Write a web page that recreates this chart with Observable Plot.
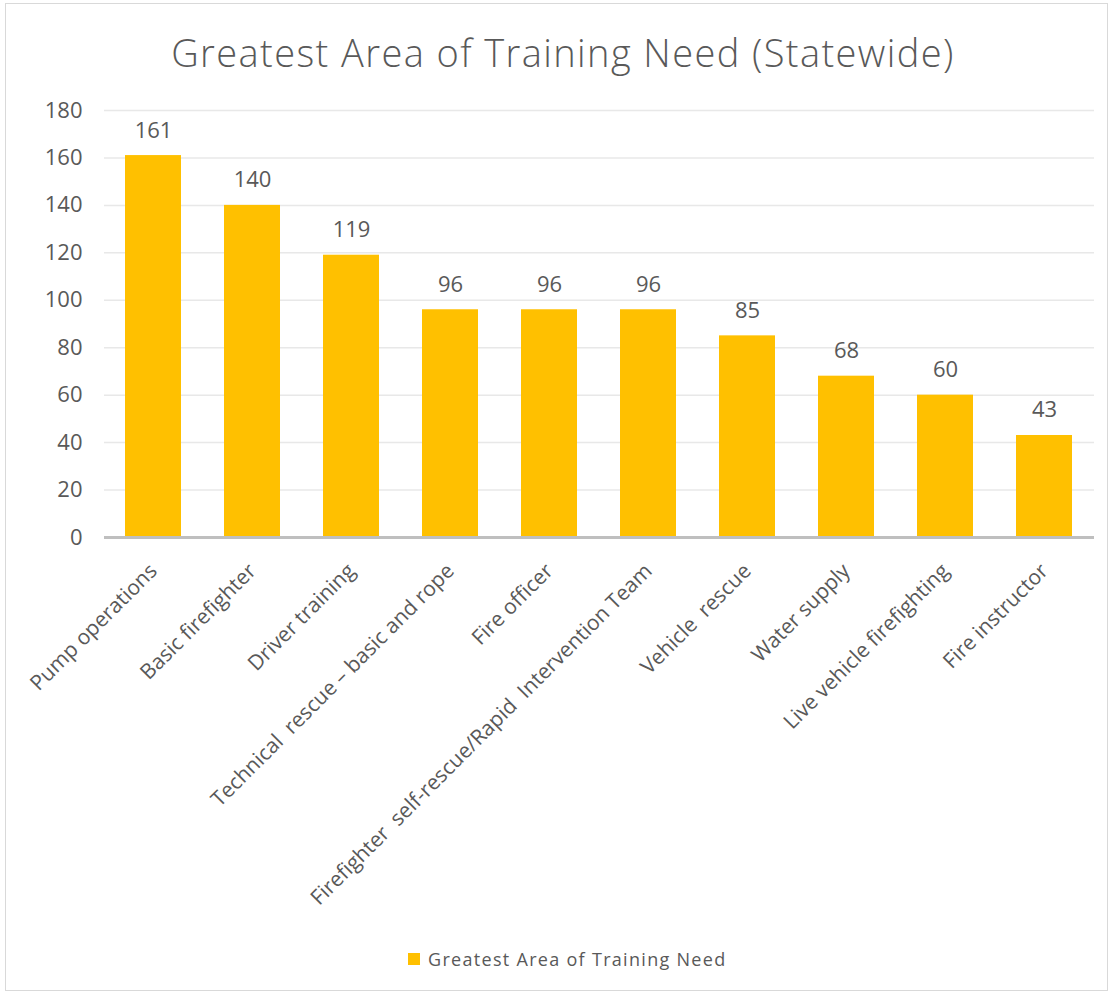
<!DOCTYPE html>
<html>
<head>
<meta charset="utf-8">
<script src="https://cdn.jsdelivr.net/npm/d3@7"></script>
<script src="https://cdn.jsdelivr.net/npm/@observablehq/plot@0.6"></script>
<style>
  html, body { margin: 0; padding: 0; background: #ffffff; }
  body { width: 1113px; height: 994px; position: relative; overflow: hidden; font-family: "Open Sans", sans-serif; }
  #frame { position: absolute; left: 5px; top: 3px; width: 1103px; height: 988px; border: 1.5px solid #d9d9d9; box-sizing: border-box; }
  #title { position: absolute; left: 0; top: 33px; width: 1126px; text-align: center; font-size: 38px; line-height: 38px; font-weight: 300; letter-spacing: 1.4px; color: #595959; }
  #chart { position: absolute; left: 0; top: 90px; }
  #chart svg text { white-space: pre; }
  #legend { position: absolute; left: 408px; top: 947px; font-size: 18px; letter-spacing: 1.3px; color: #595959; display: flex; align-items: center; }
  #legend .sw { width: 12px; height: 12px; background: #FFC000; margin-right: 8px; }
</style>
</head>
<body>
<div id="frame"></div>
<div id="title">Greatest Area of Training Need (Statewide)</div>
<div id="chart"></div>
<div id="legend"><span class="sw"></span><span>Greatest Area of Training Need</span></div>
<script>
const categories = [
  "Pump operations",
  "Basic firefighter",
  "Driver training",
  "Technical  rescue \u2013 basic and rope",
  "Fire officer",
  "Firefighter  self-rescue/Rapid  Intervention Team",
  "Vehicle  rescue",
  "Water supply",
  "Live vehicle firefighting",
  "Fire instructor"
];
const values = [161, 140, 119, 96, 96, 96, 85, 68, 60, 43];
const yTicks = [0, 20, 40, 60, 80, 100, 120, 140, 160, 180];

const data = categories.map((c, i) => ({cat: c, val: values[i]}));

const chart = Plot.plot({
  width: 1113,
  height: 850,
  marginLeft: 104,
  marginRight: 19,
  marginTop: 20,
  marginBottom: 403,
  style: {fontFamily: "Open Sans", fontSize: "22px", color: "#595959", background: "transparent"},
  x: {domain: categories, paddingInner: 0.43, paddingOuter: 0.215, label: null},
  y: {domain: [0, 180], label: null},
  marks: [
    Plot.gridY(yTicks, {stroke: "#e8e8e8", strokeOpacity: 1, strokeWidth: 1.5}),
    Plot.axisY(yTicks, {tickSize: 0, tickPadding: 22, fontSize: 22, fill: "#595959", label: null}),
    Plot.barY(data, {x: "cat", y: "val", fill: "#FFC000"}),
    Plot.ruleY([0], {stroke: "#bfbfbf", strokeWidth: 3}),
    Plot.text(data, {x: "cat", y: "val", text: d => String(d.val), dy: -18, lineAnchor: "bottom", fill: "#595959", fontSize: 22}),
    Plot.axisX({tickSize: 0, tickRotate: -45, tickPadding: 30, fontSize: 21, fill: "#595959", label: null})
  ]
});
document.getElementById("chart").appendChild(chart);
</script>
</body>
</html>
